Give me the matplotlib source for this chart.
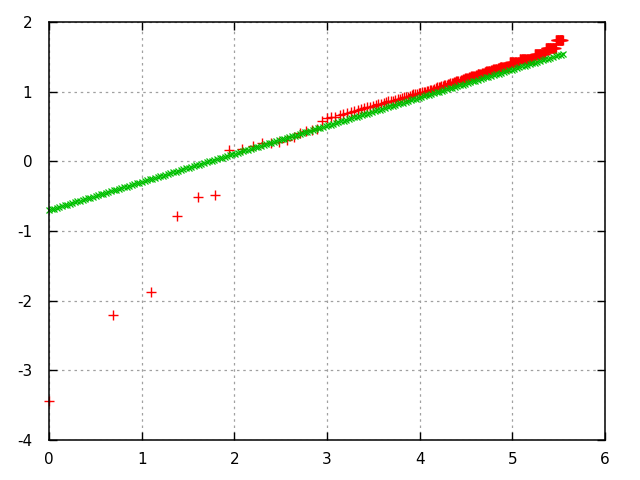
import numpy as np
import matplotlib
matplotlib.use('Agg')
import matplotlib.pyplot as plt

plt.rcParams['axes.unicode_minus'] = False

# rank of each observation (plotted as ln(rank) on x)
ranks = np.arange(1, 257)

observed = [
    -3.44, -2.20, -1.87, -0.78, -0.51, -0.49, 0.16, 0.18, 0.22, 0.26,
    0.27, 0.28, 0.31, 0.35, 0.40, 0.43, 0.45, 0.47, 0.58, 0.62,
    0.63, 0.64, 0.66, 0.68, 0.70, 0.71, 0.72, 0.74, 0.75, 0.76,
    0.78, 0.78, 0.80, 0.81, 0.82, 0.83, 0.84, 0.85, 0.86, 0.87,
    0.87, 0.88, 0.89, 0.90, 0.91, 0.92, 0.92, 0.93, 0.94, 0.95,
    0.96, 0.96, 0.97, 0.98, 0.98, 0.99, 0.99, 1.00, 1.01, 1.01,
    1.02, 1.03, 1.03, 1.04, 1.05, 1.06, 1.06, 1.07, 1.08, 1.08,
    1.09, 1.10, 1.10, 1.11, 1.11, 1.12, 1.13, 1.13, 1.14, 1.14,
    1.15, 1.15, 1.16, 1.16, 1.17, 1.17, 1.18, 1.18, 1.19, 1.19,
    1.20, 1.20, 1.21, 1.21, 1.22, 1.22, 1.22, 1.23, 1.23, 1.24,
    1.24, 1.25, 1.25, 1.25, 1.26, 1.26, 1.27, 1.27, 1.27, 1.28,
    1.28, 1.29, 1.29, 1.29, 1.30, 1.30, 1.30, 1.31, 1.31, 1.31,
    1.32, 1.32, 1.32, 1.33, 1.33, 1.33, 1.34, 1.34, 1.34, 1.35,
    1.35, 1.35, 1.35, 1.35, 1.35, 1.35, 1.35, 1.35, 1.35, 1.35,
    1.35, 1.35, 1.35, 1.42, 1.42, 1.42, 1.42, 1.42, 1.42, 1.42,
    1.42, 1.42, 1.42, 1.42, 1.42, 1.42, 1.42, 1.42, 1.42, 1.42,
    1.47, 1.47, 1.47, 1.47, 1.47, 1.47, 1.47, 1.47, 1.47, 1.47,
    1.47, 1.47, 1.47, 1.47, 1.47, 1.47, 1.47, 1.47, 1.47, 1.47,
    1.47, 1.47, 1.47, 1.47, 1.47, 1.47, 1.47, 1.47, 1.54, 1.54,
    1.54, 1.54, 1.54, 1.54, 1.54, 1.54, 1.54, 1.54, 1.54, 1.54,
    1.54, 1.54, 1.54, 1.54, 1.54, 1.54, 1.54, 1.54, 1.54, 1.54,
    1.54, 1.54, 1.63, 1.63, 1.63, 1.63, 1.63, 1.63, 1.63, 1.63,
    1.63, 1.63, 1.63, 1.63, 1.63, 1.63, 1.63, 1.63, 1.63, 1.63,
    1.63, 1.63, 1.63, 1.63, 1.63, 1.63, 1.63, 1.74, 1.74, 1.74,
    1.74, 1.74, 1.74, 1.74, 1.74, 1.74, 1.74, 1.74, 1.74, 1.74,
    1.74, 1.74, 1.74, 1.74, 1.74, 1.74,
]

# fitted line (green x): intercept and slope,
# sampled over the range of the data like gnuplot does
fit_intercept = -0.70
fit_slope = 0.404
fit_xmax = 5.55
fit_samples = 200

xticks = [0, 1, 2, 3, 4, 5, 6]
yticks = [-4, -3, -2, -1, 0, 1, 2]

x = np.log(ranks)
fx = np.linspace(0, fit_xmax, fit_samples)
fitted = fit_intercept + fit_slope * fx

fig = plt.figure(figsize=(6.4, 4.8), dpi=100)
ax = fig.add_axes([49 / 640, 1 - 440 / 480, 556 / 640, 418 / 480])

ax.plot(x, observed, ls='none', marker='+', ms=6.5, mew=1.0, color='#ff0000', clip_on=False, zorder=3)
ax.plot(fx, fitted, ls='none', marker='x', ms=4.2, mew=0.9, color='#00c000', clip_on=False, zorder=4)

ax.set_xlim(0, 6)
ax.set_ylim(-4, 2)
ax.set_xticks(xticks)
ax.set_yticks(yticks)

ax.grid(True, color='#a0a0a0', linestyle=(0, (2, 3)), linewidth=0.9)
ax.set_axisbelow(True)
for s in ax.spines.values():
    s.set_linewidth(1.1)
    s.set_zorder(5)
ax.tick_params(direction='in', length=6, width=1, top=True, right=True,
               labelsize=11, colors='black')
ax.tick_params(axis='x', pad=9)
ax.tick_params(axis='y', pad=12)

fig.savefig('out.png', dpi=100)
